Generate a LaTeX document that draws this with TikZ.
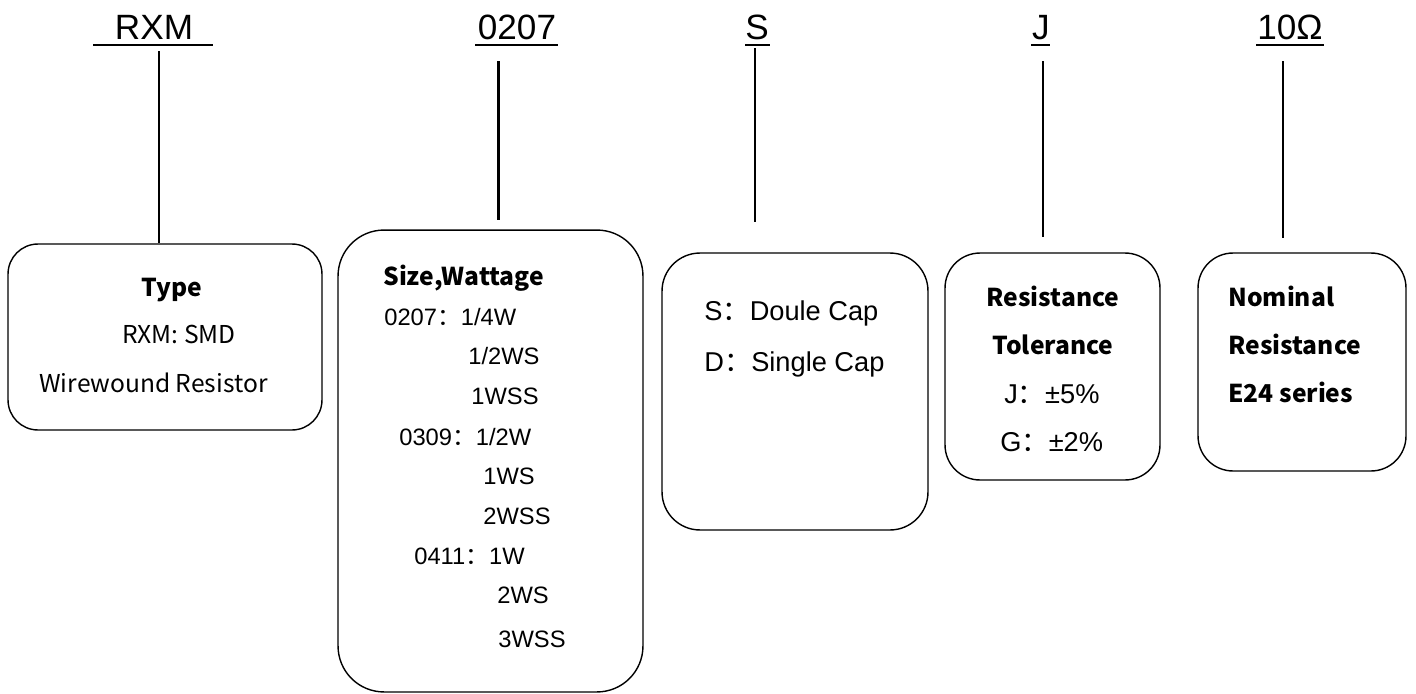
\documentclass[tikz,border=0pt]{standalone}
\usepackage{fontspec}
\setmainfont{Liberation Sans}
\newfontfamily\cjk{Noto Sans CJK SC}

\tikzset{
  box/.style={draw, line width=0.8pt, inner sep=0pt, rounded corners=#1},
  code/.style={anchor=base, inner sep=0pt, font=\fontsize{20}{24}\selectfont},
  ulin/.style={line width=1.2pt},
  stem/.style={line width=#1},
  head/.style={inner sep=0pt, font=\cjk\bfseries\fontsize{14}{17}\selectfont},
  note/.style={anchor=base west, inner sep=0pt, font=\cjk\fontsize{14}{17}\selectfont},
  row/.style={anchor=base west, inner sep=0pt, font=\fontsize{13.5}{16}\selectfont},
  item/.style={anchor=base west, inner sep=0pt, font=\fontsize{15.5}{18}\selectfont},
}

\begin{document}
\begin{tikzpicture}[%
x=0.02cm, y=-0.02cm,
]
\useasboundingbox (0,0) rectangle (1416,693);
%% code letters;
\node [code] (rxm) at (154,39) {RXM};
\node [code] (size) at (517,39) {0207};
\node [code] (cap) at (757,39) {S};
\node [code] (tol) at (1041,39) {J};
\node [code] (ohm) at (1290,39) {10Ω};
%% underlines;
\draw [ulin] (93,45) -- (213,45);
\draw [ulin] (475,45) -- (558,45);
\draw [ulin] (745,45) -- (770,45);
\draw [ulin] (1031,45) -- (1050,45);
\draw [ulin] (1256,45) -- (1324,45);
%% boxes;
\node [box=0.6cm, minimum width=6.28cm, minimum height=3.72cm] (typebox) at (165,337) {};
\node [box=0.92cm, minimum width=6.1cm, minimum height=9.24cm] (sizebox) at (490.5,461) {};
\node [box=0.76cm, minimum width=5.32cm, minimum height=5.54cm] (capbox) at (795,391.5) {};
\node [box=0.7cm, minimum width=4.3cm, minimum height=4.54cm] (tolbox) at (1052.5,366.5) {};
\node [box=0.7cm, minimum width=4.16cm, minimum height=4.36cm] (ohmbox) at (1302,362) {};
%% stems;
\coordinate (rxmtop) at (159,51);
\coordinate (sizetop) at (498,61);
\coordinate (sizeend) at (498,220);
\coordinate (captop) at (755,48);
\coordinate (capend) at (755,222);
\coordinate (toltop) at (1043,61);
\coordinate (tolend) at (1043,237);
\coordinate (ohmtop) at (1283,61);
\coordinate (ohmend) at (1283,238);
\draw [stem=1.7pt] (rxmtop) -- (rxmtop |- typebox.north);
\draw [stem=1.7pt] (sizetop) -- (sizeend);
\draw [stem=1.1pt] (captop) -- (capend);
\draw [stem=0.85pt] (toltop) -- (tolend);
\draw [stem=0.85pt] (ohmtop) -- (ohmend);
%% type;
\node [head, anchor=base] (typehd) at (172,296) {Type};
\node [note] (type1) at (122,343) {RXM: SMD};
\node [note] (type2) at (39,392) {Wirewound Resistor};
%% size, wattage;
\node [head, anchor=base west] (sizehd) at (383,285) {Size,Wattage};
\node [row] (s1) at (384,325) {0207{\cjk ：}1/4W};
\node [row] (s2) at (468,364) {1/2WS};
\node [row] (s3) at (471,404) {1WSS};
\node [row] (s4) at (399,445) {0309{\cjk ：}1/2W};
\node [row] (s5) at (483,484) {1WS};
\node [row] (s6) at (483,524) {2WSS};
\node [row] (s7) at (414,564) {0411{\cjk ：}1W};
\node [row] (s8) at (497,603) {2WS};
\node [row] (s9) at (498,647) {3WSS};
%% caps;
\node [item] (c1) at (704,320) {S{\cjk ：}Doule Cap};
\node [item] (c2) at (704,371) {D{\cjk ：}Single Cap};
%% tolerance;
\node [head, anchor=base] (tolhd1) at (1053,306) {Resistance};
\node [head, anchor=base] (tolhd2) at (1053,354) {Tolerance};
\node [item] (t1) at (1004,403) {J{\cjk ：}±5\%};
\node [item] (t2) at (1000,451) {G{\cjk ：}±2\%};
%% nominal resistance;
\node [head, anchor=base west] (ohmhd1) at (1228,306) {Nominal};
\node [head, anchor=base west] (ohmhd2) at (1228,354) {Resistance};
\node [head, anchor=base west] (ohmhd3) at (1228,402) {E24 series};
\end{tikzpicture}
\end{document}
